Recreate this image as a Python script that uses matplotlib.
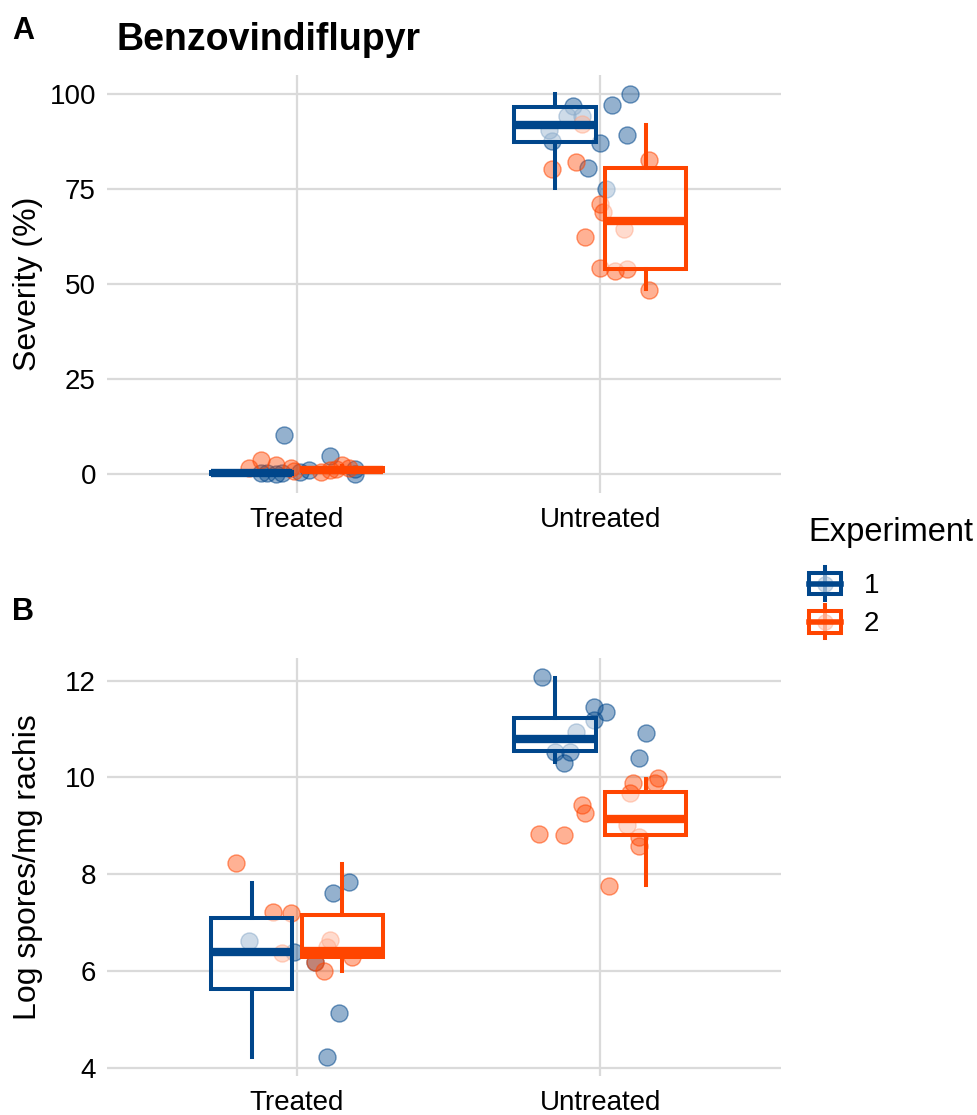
import matplotlib
matplotlib.use("Agg")
import matplotlib.pyplot as plt
from matplotlib.legend_handler import HandlerBase
from matplotlib.patches import Rectangle, Patch
from matplotlib.lines import Line2D
import numpy as np

plt.rcParams['font.family'] = ['Liberation Sans', 'DejaVu Sans']

# ---------------- data ----------------
categories = ["Treated", "Untreated"]
experiments = ["1", "2"]
colors = {"1": "#00468B", "2": "#FF4500"}

# Panel A: Severity (%) -- jittered points (x in category units, y values)
sev_treated_e1_x = [0.957, 1.11, 0.88, 0.95, 1.01, 1.04, 1.19, 1.19, 0.90, 0.93]
sev_treated_e1_y = [10.2, 4.8, 0.3, 0.3, 0.5, 1.0, 0.0, 1.2, 0.2, 0.0]
sev_treated_e2_x = [0.88, 0.93, 0.84, 0.98, 1.11, 1.15, 1.17, 1.13, 0.99, 1.08]
sev_treated_e2_y = [3.7, 2.4, 1.7, 1.5, 1.0, 2.3, 1.6, 1.3, 0.8, 0.5]
sev_untreated_e1_x = [2.10, 1.91, 2.04, 1.89, 1.94, 1.83, 1.84, 2.09, 2.00, 1.96, 2.02]
sev_untreated_e1_y = [100.0, 96.9, 97.1, 94.3, 94.3, 90.4, 87.7, 89.2, 87.1, 80.5, 75.0]
sev_untreated_e2_x = [2.16, 1.92, 1.84, 1.94, 2.00, 2.01, 2.08, 1.95, 2.00, 2.05, 2.09, 2.16]
sev_untreated_e2_y = [82.6, 82.0, 80.3, 92.1, 71.1, 68.9, 64.5, 62.5, 54.1, 53.5, 53.9, 48.4]

# Panel A box statistics per category: [Treated, Untreated]
sev_e1_whislo = [0.0, 75.3]
sev_e1_q1 = [0.0, 87.5]
sev_e1_med = [0.3, 91.9]
sev_e1_q3 = [0.5, 96.7]
sev_e1_whishi = [0.8, 100.0]
sev_e2_whislo = [0.4, 48.7]
sev_e2_q1 = [0.7, 53.9]
sev_e2_med = [1.1, 66.5]
sev_e2_q3 = [1.5, 80.5]
sev_e2_whishi = [2.0, 91.9]

# Panel B: Log spores/mg rachis
log_treated_e1_x = [0.84, 1.12, 1.17, 0.99, 1.06, 1.14, 1.10]
log_treated_e1_y = [6.62, 7.62, 7.83, 6.39, 6.19, 5.13, 4.22]
log_treated_e2_x = [0.80, 0.92, 0.98, 0.95, 1.11, 1.09, 1.06, 1.18, 1.10]
log_treated_e2_y = [8.23, 7.22, 7.19, 6.37, 6.65, 6.01, 6.19, 6.29, 6.50]
log_untreated_e1_x = [1.81, 1.98, 2.02, 1.98, 1.92, 1.85, 1.90, 1.88, 2.15, 2.13]
log_untreated_e1_y = [12.08, 11.45, 11.36, 11.19, 10.94, 10.53, 10.53, 10.30, 10.92, 10.41]
log_untreated_e2_x = [2.19, 2.11, 2.18, 2.10, 1.94, 1.95, 1.80, 1.88, 2.09, 2.13, 2.13, 2.03]
log_untreated_e2_y = [9.99, 9.88, 9.88, 9.67, 9.43, 9.26, 8.83, 8.81, 9.01, 8.77, 8.58, 7.76]

log_e1_whislo = [4.22, 10.32]
log_e1_q1 = [5.63, 10.55]
log_e1_med = [6.39, 10.79]
log_e1_q3 = [7.10, 11.22]
log_e1_whishi = [7.82, 12.06]
log_e2_whislo = [6.01, 7.77]
log_e2_q1 = [6.29, 8.81]
log_e2_med = [6.42, 9.15]
log_e2_q3 = [7.15, 9.70]
log_e2_whishi = [8.22, 9.96]

sev_yticks = [0, 25, 50, 75, 100]
log_yticks = [4, 6, 8, 10, 12]

# ---------------- figure ----------------
W, H = 978, 1115
fig = plt.figure(figsize=(W / 100, H / 100), dpi=100)

axA = fig.add_axes([107 / W, 1 - 493 / H, 674 / W, 418 / H])
axB = fig.add_axes([107 / W, 1 - 1076 / H, 674 / W, 418 / H])

DODGE = 0.15
BOXW = 0.27
GRID = "#DADADA"
LW = 2.9


def make_stats(whislo, q1, med, q3, whishi):
    return [dict(whislo=a, q1=b, med=c, q3=d, whishi=e, fliers=[])
            for a, b, c, d, e in zip(whislo, q1, med, q3, whishi)]


def draw_panel(ax, points, stats, yticks, ylim, ylabel):
    for exp, xs, ys in points:
        c = colors[exp]
        ax.scatter(xs, ys, s=150, facecolor=matplotlib.colors.to_rgba(c, 0.42),
                   edgecolor=matplotlib.colors.to_rgba(c, 0.55), linewidth=1.0, zorder=2)
    for exp, st in stats:
        c = colors[exp]
        off = -DODGE if exp == "1" else DODGE
        pos = [i + 1 + off for i in range(len(categories))]
        ax.bxp(st, positions=pos, widths=BOXW, showfliers=False, showcaps=False,
               patch_artist=True, manage_ticks=False,
               boxprops=dict(facecolor=(1, 1, 1, 0.55), edgecolor=c, linewidth=LW),
               medianprops=dict(color=c, linewidth=6.0, solid_capstyle='butt'),
               whiskerprops=dict(color=c, linewidth=LW), zorder=3)
    ax.set_xlim(0.373, 2.597)
    ax.set_ylim(*ylim)
    ax.set_xticks([1, 2])
    ax.set_xticklabels(categories, fontsize=20)
    ax.set_yticks(yticks)
    ax.set_yticklabels([str(t) for t in yticks], fontsize=20)
    ax.tick_params(length=0, pad=8)
    ax.tick_params(axis='x', pad=10)
    for s in ax.spines.values():
        s.set_visible(False)
    ax.grid(True, color=GRID, linewidth=1.6, zorder=0)
    ax.set_axisbelow(True)
    ax.set_ylabel(ylabel, fontsize=23)
    ax.yaxis.set_label_coords(-0.095, 0.5)


draw_panel(
    axA,
    [("1", sev_treated_e1_x + sev_untreated_e1_x, sev_treated_e1_y + sev_untreated_e1_y),
     ("2", sev_treated_e2_x + sev_untreated_e2_x, sev_treated_e2_y + sev_untreated_e2_y)],
    [("1", make_stats(sev_e1_whislo, sev_e1_q1, sev_e1_med, sev_e1_q3, sev_e1_whishi)),
     ("2", make_stats(sev_e2_whislo, sev_e2_q1, sev_e2_med, sev_e2_q3, sev_e2_whishi))],
    sev_yticks, (-5, 105), "Severity (%)")

draw_panel(
    axB,
    [("1", log_treated_e1_x + log_untreated_e1_x, log_treated_e1_y + log_untreated_e1_y),
     ("2", log_treated_e2_x + log_untreated_e2_x, log_treated_e2_y + log_untreated_e2_y)],
    [("1", make_stats(log_e1_whislo, log_e1_q1, log_e1_med, log_e1_q3, log_e1_whishi)),
     ("2", make_stats(log_e2_whislo, log_e2_q1, log_e2_med, log_e2_q3, log_e2_whishi))],
    log_yticks, (3.83, 12.47), "Log spores/mg rachis")

# titles / panel tags
fig.text(117 / W, 1 - 40 / H, "Benzovindiflupyr", fontsize=27, fontweight='bold',
         ha='left', va='center')
fig.text(12 / W, 1 - 31 / H, "A", fontsize=22, fontweight='bold', ha='left', va='center')
fig.text(12 / W, 1 - 612 / H, "B", fontsize=22, fontweight='bold', ha='left', va='center')


# legend with boxplot glyphs
class BoxHandler(HandlerBase):
    def create_artists(self, legend, orig_handle, xdescent, ydescent, width, height,
                       fontsize, trans):
        c = orig_handle.get_edgecolor()
        cx = -xdescent + width / 2
        bw = width * 0.95
        bh = height * 0.95
        y0 = -ydescent + (height - bh) / 2
        artists = []
        artists.append(Line2D([cx, cx], [y0 - height * 0.25, y0 + bh + height * 0.25],
                              color=c, linewidth=LW, transform=trans))
        circ = Line2D([cx], [y0 + bh / 2], marker='o', markersize=11,
                      markerfacecolor=matplotlib.colors.to_rgba(c, 0.4),
                      markeredgecolor=matplotlib.colors.to_rgba(c, 0.5), linestyle='none',
                      transform=trans)
        artists.append(circ)
        r = Rectangle((cx - bw / 2, y0), bw, bh, facecolor=(1, 1, 1, 0.55), edgecolor=c,
                      linewidth=LW, transform=trans)
        artists.append(r)
        artists.append(Line2D([cx - bw / 2, cx + bw / 2], [y0 + bh / 2, y0 + bh / 2],
                              color=c, linewidth=4, transform=trans))
        return artists


fig.text(808 / W, 1 - 533 / H, "Experiment", fontsize=23.5, ha='left', va='center')
handles = [Patch(facecolor='none', edgecolor=colors[e]) for e in experiments]
leg = fig.legend(handles, experiments, loc='upper left',
                 bbox_to_anchor=(783 / W, 1 - 547 / H), frameon=False,
                 fontsize=20, handler_map={Patch: BoxHandler()}, handlelength=1.2,
                 handleheight=0.9, handletextpad=0.8, labelspacing=0.4)

fig.savefig("out.png", dpi=100)
